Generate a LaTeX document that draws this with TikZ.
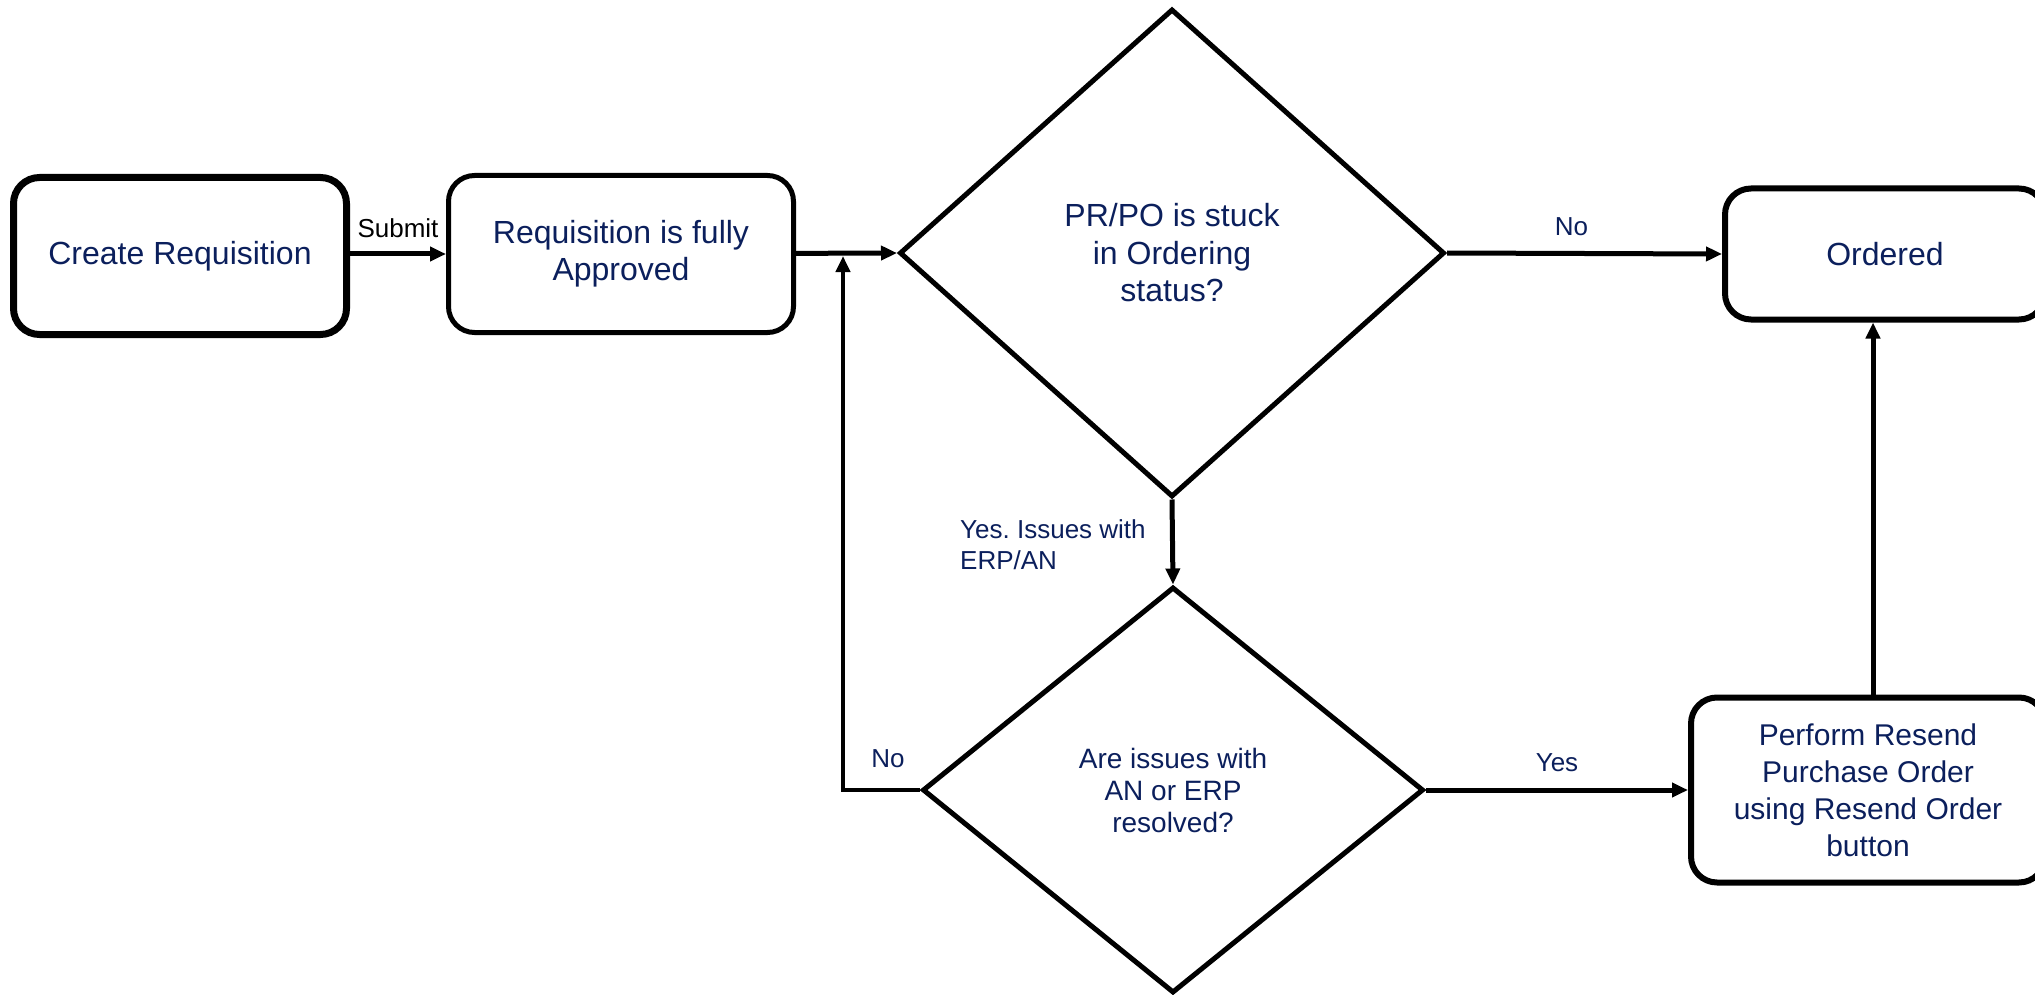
\documentclass[tikz,border=0pt]{standalone}
\usepackage{fontspec}
\setmainfont{Liberation Sans}
\usetikzlibrary{arrows.meta, positioning, shapes.geometric}
\definecolor{navy}{HTML}{0B1F5C}

\begin{document}
\begin{tikzpicture}[x=1pt, y=-1pt,
  box/.style={draw, rounded corners=26pt, line width=6pt, align=center, text=navy,
    font=\fontsize{32}{37}\selectfont, inner sep=0pt},
  decide/.style={draw, diamond, line width=5pt, align=center, text=navy, inner sep=0pt},
  lbl/.style={text=navy, font=\fontsize{26}{31}\selectfont, inner sep=0pt},
  flow/.style={-{Triangle[length=16pt,width=14pt]}, line width=5pt}]
\useasboundingbox (0,0) rectangle (2035,995);
% boxes
\node[box, line width=7pt, minimum width=333pt, minimum height=157pt] (create) at (180,256) {Create Requisition};
\node[box, line width=5pt, minimum width=345pt, minimum height=157pt] (approved) at (621,254) {Requisition is fully\\Approved};
\node[box, minimum width=320pt, minimum height=131pt] (ordered) at (1885,254) {Ordered};
\node[box, minimum width=354pt, minimum height=185pt, font=\fontsize{30}{37}\selectfont] (resend) at (1868,790)
  {Perform Resend\\Purchase Order\\using Resend Order\\button};
% decisions
\node[decide, minimum width=545pt, minimum height=488pt, font=\fontsize{32}{37.5}\selectfont] (stuck) at (1172,253)
  {PR/PO is stuck\\in Ordering\\status?};
\node[decide, minimum width=501pt, minimum height=406pt, font=\fontsize{28}{32}\selectfont] (resolved) at (1173,790)
  {Are issues with\\AN or ERP\\resolved?};
\coordinate (join) at (843,256);
\coordinate (up) at (1873,698);
% connectors
\draw[flow] (create.east |- approved) -- (approved) node[midway, above=14pt, inner sep=0pt, font=\fontsize{26}{31}\selectfont] {Submit};
\draw[flow] (approved) -- (stuck.west);
\draw[flow] (stuck.east) -- (ordered.west) node[lbl, midway, above=15pt, xshift=-13pt] {No};
\draw[flow] (stuck.south) -- (resolved.north);
\draw[flow] (resolved.east) -- (resend.west) node[lbl, midway, above=16pt] {Yes};
\draw[flow] (up) -- (up |- ordered.south);
\draw[flow, line width=4pt] (resolved.west) -| (join);
\node[lbl] at (888,759) {No};
\node[lbl, anchor=west, align=left] at (960,545) {Yes.\ Issues with\\ERP/AN};
\end{tikzpicture}
\end{document}
